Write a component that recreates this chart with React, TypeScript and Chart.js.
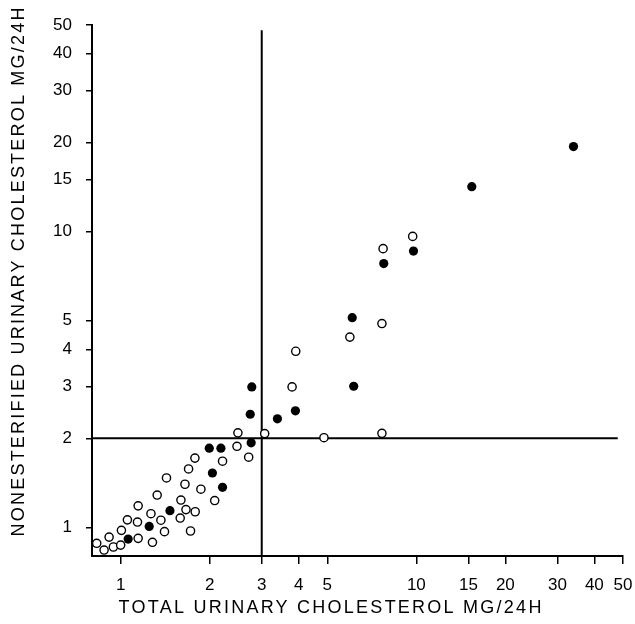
import React, { useEffect, useRef } from "react";
import { Chart, registerables } from "chart.js";

Chart.register(...registerables);

// ---- Data ----
const X_TICKS = [1, 2, 3, 4, 5, 10, 15, 20, 30, 40, 50];
const Y_TICKS = [1, 2, 3, 4, 5, 10, 15, 20, 30, 40, 50];
const AXIS_MIN = 0.8;
const AXIS_MAX = 50;

// open circles
const OPEN_X = [0.83, 0.879, 0.914, 0.945, 1.0, 1.006, 1.054, 1.14, 1.146, 1.146, 1.266, 1.281, 1.329, 1.368, 1.407, 1.429, 1.59, 1.599, 1.65, 1.663, 1.697, 1.723, 1.783, 1.787, 1.868, 2.08, 2.211, 2.474, 2.492, 2.71, 3.07, 3.8, 3.91, 4.87, 5.96, 7.65, 7.65, 7.72, 9.72];
const OPEN_Y = [0.883, 0.838, 0.927, 0.858, 0.871, 0.977, 1.06, 1.042, 1.182, 0.918, 1.112, 0.89, 1.286, 1.057, 0.967, 1.469, 1.075, 1.237, 1.399, 1.148, 1.576, 0.972, 1.715, 1.129, 1.346, 1.232, 1.674, 1.88, 2.087, 1.727, 2.076, 2.985, 3.94, 2.01, 4.4, 4.89, 2.08, 8.76, 9.64];

// filled circles
const FILLED_X = [1.06, 1.249, 1.468, 1.994, 2.183, 2.043, 2.211, 2.763, 2.743, 2.777, 3.39, 3.9, 6.07, 6.14, 7.76, 9.78, 15.4, 34.0];
const FILLED_Y = [0.913, 1.007, 1.139, 1.853, 1.853, 1.527, 1.366, 1.931, 2.413, 2.985, 2.328, 2.477, 5.12, 3.0, 7.8, 8.6, 14.2, 19.4];

// threshold lines
const V_LINE_X = [3, 3];
const V_LINE_Y = [0.8, 48];
const H_LINE_X = [0.8, 48];
const H_LINE_Y = [2, 2];

const X_TITLE = "TOTAL URINARY CHOLESTEROL MG/24H";
const Y_TITLE = "NONESTERIFIED URINARY CHOLESTEROL MG/24H";

const FONT_FAMILY = "'Liberation Sans', Arial, sans-serif";

const zip = (xs: number[], ys: number[]) => xs.map((x, i) => ({ x, y: ys[i] }));

// Draws the two axis titles (text taken from the scale options) with letter spacing
const spacedTitles = {
  id: "spacedTitles",
  afterDraw(chart: any) {
    const ctx = chart.ctx as any;
    const draw = (text: string, cx: number, cy: number, rot: number, target: number) => {
      ctx.save();
      ctx.font = `18px ${FONT_FAMILY}`;
      ctx.fillStyle = "#000";
      ctx.textAlign = "center";
      ctx.textBaseline = "middle";
      ctx.letterSpacing = "0px";
      const w = ctx.measureText(text).width;
      const sp = Math.max(0, (target - w) / text.length);
      ctx.letterSpacing = `${sp}px`;
      ctx.translate(cx, cy);
      ctx.rotate(rot);
      ctx.fillText(text, sp / 2, 0, target + 4);
      ctx.restore();
    };
    draw(chart.options.scales.x.title.text, 330, 608, 0, 425);
    draw(chart.options.scales.y.title.text, 19, 272, -Math.PI / 2, 531);
  },
};

function axis(ticks: number[], title: string, isX: boolean) {
  return {
    type: "logarithmic" as const,
    position: isX ? ("bottom" as const) : ("left" as const),
    min: AXIS_MIN,
    max: AXIS_MAX,
    title: { display: false, text: title },
    grid: {
      display: true,
      drawOnChartArea: false,
      drawTicks: true,
      tickLength: isX ? 8 : 6,
      color: "#000",
      lineWidth: 1.5,
    },
    border: { display: true, color: "#000", width: 2 },
    ticks: {
      autoSkip: false,
      maxRotation: 0,
      minRotation: 0,
      color: "#000",
      padding: isX ? 11 : 14,
      font: { family: FONT_FAMILY, size: 17 },
      callback: (v: any) => String(v),
    },
    afterBuildTicks: (s: any) => {
      s.ticks = ticks.map((v) => ({ value: v }));
    },
    afterFit: (s: any) => {
      if (isX) s.height = 68;
      else s.width = 92;
      s.paddingLeft = 0;
      s.paddingRight = 0;
      s.paddingTop = 0;
      s.paddingBottom = 0;
    },
  };
}

export default function App() {
  const ref = useRef<HTMLCanvasElement | null>(null);

  useEffect(() => {
    if (!ref.current) return;
    const chart = new Chart(ref.current, {
      type: "scatter",
      data: {
        datasets: [
          {
            label: "filled",
            data: zip(FILLED_X, FILLED_Y),
            pointRadius: 4.6,
            pointBackgroundColor: "#000",
            pointBorderColor: "#000",
            pointBorderWidth: 0,
            showLine: false,
            order: 1,
          },
          {
            label: "open",
            data: zip(OPEN_X, OPEN_Y),
            pointRadius: 4.1,
            pointBackgroundColor: "#fff",
            pointBorderColor: "#000",
            pointBorderWidth: 1.4,
            showLine: false,
            order: 2,
          },
          {
            label: "x = 3",
            data: zip(V_LINE_X, V_LINE_Y),
            showLine: true,
            borderColor: "#000",
            borderWidth: 2,
            pointRadius: 0,
            order: 3,
          },
          {
            label: "y = 2",
            data: zip(H_LINE_X, H_LINE_Y),
            showLine: true,
            borderColor: "#000",
            borderWidth: 2,
            pointRadius: 0,
            order: 4,
          },
        ],
      },
      options: {
        animation: false,
        responsive: false,
        layout: { padding: { top: 25, right: 12, left: 0, bottom: 0 } },
        plugins: { legend: { display: false }, tooltip: { enabled: false } },
        scales: {
          x: axis(X_TICKS, X_TITLE, true) as any,
          y: axis(Y_TICKS, Y_TITLE, false) as any,
        },
      },
      plugins: [spacedTitles],
    });
    return () => chart.destroy();
  }, []);

  return (
    <div style={{ position: "absolute", left: 0, top: 0, width: 635, height: 624, background: "#fff" }}>
      <canvas ref={ref} width={635} height={624} style={{ display: "block" }} />
    </div>
  );
}
